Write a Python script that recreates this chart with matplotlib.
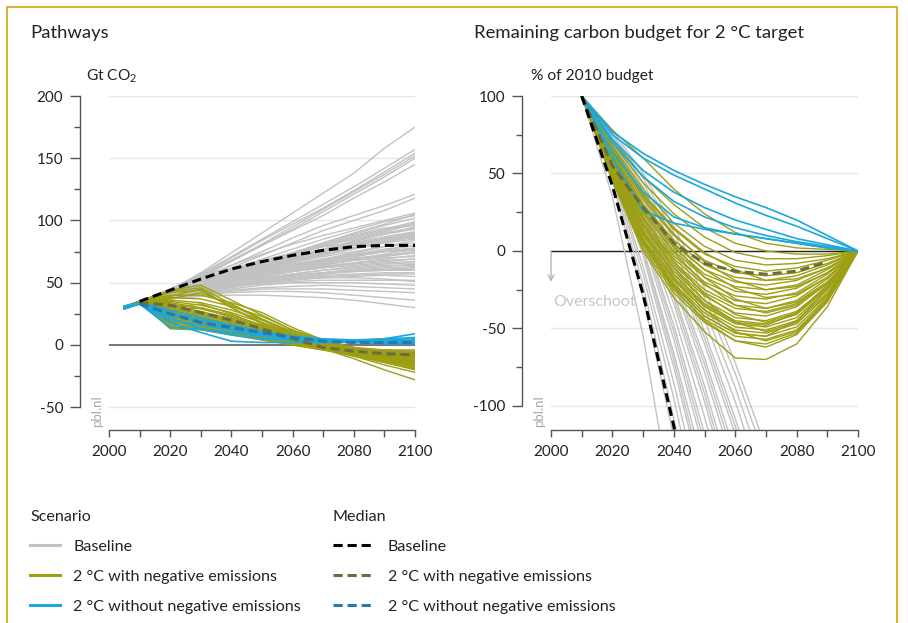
"""
Emission pathways and remaining 2 degree carbon budget (two panels plus a shared legend).
"""
import matplotlib
matplotlib.use('Agg')
import matplotlib.pyplot as plt
from matplotlib.lines import Line2D
from matplotlib.ticker import MultipleLocator

plt.rcParams['font.family'] = ['Lato', 'DejaVu Sans']
plt.rcParams['mathtext.fontset'] = 'custom'
plt.rcParams['mathtext.rm'] = 'Lato'
plt.rcParams['mathtext.it'] = 'Lato'
plt.rcParams['axes.unicode_minus'] = False

# ---------------------------------------------------------------- data
# Pathways, Gt CO2 per year
path_years = [2005, 2010, 2020, 2030, 2040, 2050, 2060, 2070, 2080, 2090, 2100]

path_baseline = [
    [30, 34, 44, 58, 74, 90, 106, 122, 138, 158, 175],
    [30, 35, 45, 57, 71, 85, 99, 113, 127, 142, 157],
    [29, 34, 44, 56, 70, 84, 97, 110, 124, 139, 154],
    [31, 35, 44, 55, 68, 81, 95, 109, 123, 137, 152],
    [30, 34, 43, 54, 67, 80, 93, 107, 121, 135, 150],
    [30, 35, 45, 56, 68, 80, 92, 104, 118, 131, 145],
    [29, 33, 42, 53, 64, 75, 86, 96, 104, 112, 121],
    [30, 34, 42, 52, 62, 72, 82, 92, 100, 108, 118],
    [30, 35, 44, 54, 64, 73, 81, 88, 94, 100, 106],
    [31, 35, 43, 52, 61, 69, 77, 85, 92, 99, 104],
    [29, 34, 42, 50, 58, 66, 74, 82, 89, 96, 102],
    [30, 34, 41, 49, 57, 65, 73, 80, 87, 93, 99],
    [30, 35, 43, 51, 59, 67, 74, 81, 88, 94, 96],
    [30, 34, 41, 48, 56, 63, 70, 77, 83, 89, 93],
    [29, 33, 40, 48, 55, 62, 69, 75, 81, 86, 90],
    [30, 34, 42, 50, 58, 64, 70, 75, 80, 84, 88],
    [31, 35, 42, 49, 56, 62, 68, 73, 78, 82, 85],
    [30, 34, 41, 48, 54, 60, 66, 71, 75, 79, 82],
    [30, 34, 40, 47, 53, 59, 64, 69, 73, 77, 80],
    [29, 33, 40, 46, 52, 58, 63, 67, 71, 75, 78],
    [30, 35, 42, 49, 55, 60, 65, 69, 72, 75, 76],
    [30, 34, 40, 46, 52, 57, 62, 66, 70, 72, 74],
    [30, 34, 41, 47, 53, 58, 62, 65, 68, 70, 71],
    [31, 35, 41, 46, 51, 56, 60, 63, 66, 68, 69],
    [30, 34, 40, 45, 50, 55, 59, 62, 64, 66, 67],
    [30, 34, 39, 44, 49, 54, 57, 60, 62, 64, 64],
    [29, 33, 39, 44, 48, 52, 56, 58, 60, 61, 62],
    [30, 34, 40, 45, 49, 53, 56, 58, 59, 60, 60],
    [30, 34, 39, 43, 47, 51, 54, 56, 57, 58, 58],
    [30, 34, 39, 43, 47, 50, 52, 54, 55, 56, 55],
    [30, 35, 40, 44, 47, 49, 51, 52, 52, 52, 52],
    [30, 34, 38, 42, 45, 48, 50, 50, 50, 49, 48],
    [29, 33, 38, 41, 44, 46, 47, 48, 47, 46, 45],
    [30, 34, 38, 41, 43, 45, 45, 45, 44, 43, 42],
    [30, 34, 37, 40, 42, 43, 43, 42, 40, 38, 36],
    [30, 34, 37, 39, 40, 40, 39, 38, 36, 33, 30],
    [30, 35, 41, 47, 54, 61, 68, 76, 84, 90, 94],
    [30, 34, 42, 50, 57, 64, 70, 76, 82, 87, 91],
    [30, 34, 40, 46, 53, 60, 67, 74, 80, 85, 89],
    [30, 35, 43, 52, 60, 68, 74, 79, 82, 84, 86],
    [30, 34, 41, 49, 57, 65, 72, 79, 85, 91, 97],
    [30, 35, 43, 51, 58, 65, 71, 77, 83, 89, 95],
    [29, 34, 42, 49, 56, 63, 69, 75, 80, 85, 90],
    [30, 34, 40, 47, 54, 61, 67, 72, 77, 82, 87],
    [31, 35, 42, 48, 55, 61, 67, 73, 78, 83, 87],
    [30, 34, 41, 48, 54, 59, 64, 69, 74, 79, 84],
    [30, 34, 40, 46, 52, 58, 63, 68, 72, 76, 80],
    [30, 35, 41, 47, 53, 58, 63, 67, 71, 75, 78],
    [29, 33, 39, 45, 51, 56, 61, 65, 69, 73, 77],
    [30, 34, 40, 46, 51, 56, 60, 64, 68, 71, 74],
    [30, 34, 39, 45, 50, 55, 59, 63, 66, 69, 72],
    [30, 35, 41, 46, 51, 55, 59, 62, 65, 67, 69],
    [30, 34, 39, 44, 49, 53, 57, 60, 63, 65, 66],
    [30, 34, 38, 43, 48, 52, 55, 58, 61, 63, 65],
    [31, 35, 40, 45, 49, 53, 56, 58, 60, 62, 63],
    [30, 34, 39, 43, 47, 51, 54, 57, 59, 60, 61],
    [30, 34, 40, 46, 52, 57, 61, 65, 69, 72, 75],
    [30, 34, 42, 50, 57, 63, 68, 73, 78, 83, 88],
    [30, 35, 43, 51, 59, 66, 73, 80, 86, 92, 98],
    [30, 34, 42, 50, 58, 66, 74, 82, 90, 97, 105],
    [30, 34, 38, 42, 46, 50, 53, 55, 56, 57, 57],
    [30, 34, 39, 44, 48, 51, 53, 54, 54, 53, 51],
]

path_negative = [
    [31, 35, 44, 48, 36, 24, 12, 4, -2, -6, -10],
    [30, 35, 43, 46, 33, 21, 10, 2, -4, -8, -12],
    [30, 34, 42, 44, 30, 18, 8, 0, -6, -11, -15],
    [31, 35, 40, 40, 34, 26, 14, 4, -4, -10, -14],
    [30, 34, 38, 37, 31, 23, 12, 2, -6, -12, -17],
    [30, 34, 36, 34, 28, 20, 11, 3, -3, -7, -9],
    [29, 34, 35, 32, 26, 18, 9, 1, -5, -9, -12],
    [30, 35, 34, 30, 24, 16, 8, 1, -4, -7, -8],
    [30, 34, 33, 29, 23, 15, 6, -2, -8, -14, -20],
    [30, 34, 32, 27, 21, 13, 5, -2, -9, -16, -22],
    [31, 35, 31, 26, 20, 12, 4, -3, -11, -20, -28],
    [30, 34, 30, 25, 19, 12, 5, -1, -6, -10, -13],
    [30, 34, 29, 24, 18, 11, 5, 0, -3, -5, -6],
    [29, 33, 28, 23, 17, 10, 4, -1, -5, -8, -10],
    [30, 34, 27, 22, 16, 10, 4, -1, -6, -11, -15],
    [30, 35, 26, 21, 15, 9, 3, -2, -7, -12, -16],
    [30, 34, 25, 20, 14, 8, 3, -2, -5, -7, -9],
    [31, 35, 24, 19, 13, 8, 3, -1, -4, -6, -7],
    [30, 34, 23, 18, 13, 7, 2, -3, -8, -13, -18],
    [30, 34, 22, 18, 12, 7, 2, -2, -6, -9, -11],
    [29, 33, 21, 17, 12, 6, 1, -3, -7, -10, -13],
    [30, 34, 20, 16, 11, 6, 1, -2, -5, -6, -7],
    [30, 35, 19, 15, 10, 5, 1, -3, -6, -9, -12],
    [30, 34, 18, 15, 10, 5, 0, -4, -9, -14, -19],
    [30, 34, 17, 14, 9, 5, 1, -2, -4, -5, -6],
    [31, 35, 16, 14, 9, 4, 0, -4, -8, -11, -14],
    [30, 34, 15, 13, 9, 5, 2, -1, -3, -4, -4],
    [30, 34, 14, 13, 10, 6, 2, -1, -4, -6, -8],
    [30, 35, 13, 12, 8, 4, 1, -2, -5, -8, -10],
    [30, 34, 27, 30, 22, 14, 6, -1, -7, -13, -17],
    [30, 34, 37, 42, 32, 20, 9, 1, -5, -9, -11],
    [30, 34, 39, 45, 30, 17, 7, -1, -8, -14, -19],
    [30, 34, 30, 33, 25, 15, 7, 2, -2, -4, -5],
    [30, 34, 18, 22, 16, 9, 3, -2, -7, -11, -14],
    [30, 34, 21, 25, 18, 10, 4, -2, -7, -10, -12],
]

path_no_negative = [
    [31, 34, 22, 13, 8, 5, 4, 3, 3, 3, 3],
    [30, 33, 18, 10, 3, 2, 2, 2, 2, 3, 4],
    [30, 34, 26, 20, 15, 10, 6, 4, 3, 5, 9],
    [29, 33, 24, 18, 13, 9, 5, 3, 2, 2, 2],
    [30, 33, 14, 13, 10, 7, 5, 4, 4, 5, 6],
    [31, 34, 28, 22, 16, 11, 7, 5, 4, 4, 5],
    [30, 33, 20, 16, 12, 8, 5, 3, 2, 1, 1],
]

median_years = [2010, 2020, 2030, 2040, 2050, 2060, 2070, 2080, 2090, 2100]
path_median_baseline = [35, 44, 53, 61, 67, 72, 76, 79, 80, 80]
path_median_negative = [34, 32, 26, 20, 13, 5, -2, -5, -7, -8]
path_median_no_negative = [33, 25, 18, 14, 10, 6, 3, 2, 2, 2]

# Remaining carbon budget, % of 2010 budget
budget_years = [2010, 2020, 2030, 2040, 2050, 2060, 2070, 2080, 2090, 2100]
budget_base_years = [2010, 2020, 2030, 2040, 2050, 2060, 2070]

budget_baseline = [
    [100, 35, -55, -170, -290, -410, -530],
    [100, 45, -30, -120, -220, -330, -440],
    [100, 48, -22, -108, -205, -310, -420],
    [100, 50, -15, -95, -185, -285, -390],
    [100, 52, -10, -85, -170, -265, -370],
    [100, 55, -3, -75, -155, -245, -345],
    [100, 57, 2, -66, -142, -228, -320],
    [100, 59, 7, -57, -130, -212, -300],
    [100, 61, 12, -48, -118, -197, -282],
    [100, 63, 16, -41, -107, -182, -265],
    [100, 64, 20, -34, -97, -168, -248],
    [100, 66, 24, -27, -87, -155, -232],
    [100, 67, 27, -21, -78, -142, -215],
    [100, 69, 31, -15, -69, -130, -200],
    [100, 70, 34, -9, -60, -118, -185],
    [100, 72, 38, -3, -52, -108, -172],
    [100, 73, 41, 2, -44, -97, -158],
    [100, 75, 44, 7, -37, -88, -146],
    [100, 76, 47, 12, -30, -79, -135],
    [100, 78, 50, 16, -24, -72, -127],
    [100, 65, 22, -30, -92, -162, -240],
    [100, 60, 10, -52, -124, -205, -292],
    [100, 54, 0, -70, -150, -238, -335],
    [100, 68, 29, -18, -73, -136, -208],
    [100, 71, 36, -6, -56, -113, -178],
]

budget_negative = [
    [100, 78, 60, 40, 24, 12, 5, 2, 1, 0],
    [100, 72, 48, 30, 15, 5, 0, -2, -2, 0],
    [100, 70, 44, 24, 9, -1, -5, -5, -3, 0],
    [100, 68, 40, 18, 3, -6, -9, -8, -5, 0],
    [100, 66, 36, 14, -2, -10, -13, -11, -6, 0],
    [100, 64, 33, 10, -6, -14, -16, -14, -8, 0],
    [100, 62, 30, 7, -9, -17, -19, -16, -9, 0],
    [100, 61, 28, 4, -12, -20, -22, -19, -11, 0],
    [100, 60, 26, 2, -15, -23, -25, -22, -12, 0],
    [100, 59, 24, 0, -17, -26, -28, -24, -14, 0],
    [100, 58, 22, -3, -20, -29, -31, -27, -15, 0],
    [100, 57, 20, -5, -22, -32, -34, -29, -17, 0],
    [100, 56, 18, -7, -25, -35, -37, -32, -18, 0],
    [100, 55, 17, -9, -27, -37, -39, -34, -20, 0],
    [100, 54, 15, -11, -29, -40, -42, -36, -21, 0],
    [100, 53, 13, -13, -32, -43, -45, -39, -23, 0],
    [100, 52, 12, -15, -34, -45, -47, -41, -24, 0],
    [100, 51, 10, -17, -36, -47, -49, -43, -25, 0],
    [100, 50, 8, -19, -38, -49, -51, -45, -27, 0],
    [100, 49, 7, -21, -40, -51, -53, -47, -28, 0],
    [100, 48, 5, -23, -42, -53, -55, -49, -30, 0],
    [100, 47, 4, -25, -44, -55, -57, -51, -31, 0],
    [100, 46, 2, -27, -46, -58, -60, -53, -32, 0],
    [100, 45, 0, -30, -52, -69, -70, -60, -36, 0],
    [100, 63, 30, 5, -12, -24, -30, -28, -17, 0],
    [100, 58, 21, -7, -28, -41, -46, -40, -24, 0],
    [100, 54, 13, -15, -35, -46, -48, -40, -22, 0],
    [100, 50, 7, -22, -42, -53, -55, -45, -25, 0],
    [100, 60, 25, -1, -21, -35, -40, -35, -21, 0],
    [100, 65, 35, 11, -7, -19, -25, -23, -14, 0],
    [100, 52, 11, -18, -38, -52, -58, -52, -32, 0],
    [100, 67, 37, 15, -1, -12, -19, -18, -11, 0],
    [100, 56, 17, -11, -32, -46, -52, -46, -29, 0],
    [100, 48, 6, -24, -45, -58, -62, -54, -33, 0],
    [100, 62, 29, 3, -17, -31, -37, -33, -20, 0],
]

budget_no_negative = [
    [100, 77, 63, 52, 43, 35, 28, 20, 10, 0],
    [100, 75, 60, 49, 40, 31, 23, 16, 8, 0],
    [100, 72, 52, 38, 28, 20, 14, 8, 4, 0],
    [100, 70, 48, 32, 22, 15, 10, 6, 3, 0],
    [100, 64, 38, 22, 15, 11, 8, 5, 2, 0],
    [100, 60, 26, 18, 14, 11, 8, 5, 2, 0],
]

budget_median_baseline_years = [2010, 2020, 2030, 2040, 2050]
budget_median_baseline = [100, 42, -28, -113, -210]
budget_median_negative_years = [2010, 2020, 2030, 2040, 2050, 2060, 2070, 2080, 2090]
budget_median_negative = [100, 55, 28, 5, -8, -13, -15, -13, -7]

# ---------------------------------------------------------------- style
GREY = '#c2c2c2'
OLIVE = '#9c9f14'
CYAN = '#1ba8dd'
OLIVE_MED = '#6c6d3a'
CYAN_MED = '#2679ad'
TEXT = '#222222'
SPINE = '#555555'
GOLD = '#d9b630'
MED_DASH = (3, 1.6)

fig = plt.figure(figsize=(9.08, 6.23), dpi=100)
W, H = 908, 623


def px_axes(x0, x1, y0, y1):
    # axes placed from pixel coords (top-left origin)
    return fig.add_axes([x0 / W, 1 - y1 / H, (x1 - x0) / W, (y1 - y0) / H])


def style_axes(ax, ylim, ystep, bounds):
    ax.set_xlim(2000, 2100)
    ax.set_ylim(*ylim)
    for side in ['top', 'right']:
        ax.spines[side].set_visible(False)
    ax.spines['left'].set_position(('outward', 21))
    ax.spines['left'].set_bounds(*bounds)
    for side in ['left', 'bottom']:
        ax.spines[side].set_color(SPINE)
        ax.spines[side].set_linewidth(1.0)
    ax.xaxis.set_major_locator(MultipleLocator(20))
    ax.xaxis.set_minor_locator(MultipleLocator(10))
    ax.set_yticks(list(range(int(bounds[0]), int(bounds[1]) + 1, int(ystep))))
    ax.set_yticks([t + ystep / 2 for t in range(int(bounds[0]), int(bounds[1]), int(ystep))], minor=True)
    ax.tick_params(axis='x', which='both', direction='out', length=5, width=1.0,
                   color=SPINE, labelsize=11, labelcolor=TEXT, pad=6)
    ax.tick_params(axis='y', which='major', direction='out', length=7, width=1.0,
                   color=SPINE, labelsize=11, labelcolor=TEXT, pad=5)
    ax.tick_params(axis='y', which='minor', direction='out', length=4, width=1.0, color=SPINE)
    ax.yaxis.grid(True, which='major', color='#e6e6e6', linewidth=1.0)
    ax.set_axisbelow(True)
    ax.text(-0.04, 0.01, 'pbl.nl', rotation=90, transform=ax.transAxes,
            color='#a9a9a9', fontsize=9.5, ha='center', va='bottom')


# ---------------------------------------------------------------- left panel
ax1 = px_axes(109, 415, 96, 430)
style_axes(ax1, (-68.3, 200), 50, (-50, 200))
ax1.axhline(0, color='#6a6a6a', linewidth=1.3, zorder=1.5)

for series in path_baseline:
    ax1.plot(path_years, series, color=GREY, linewidth=1.0, zorder=2)
for series in path_negative:
    ax1.plot(path_years, series, color=OLIVE, linewidth=1.0, zorder=3)
for series in path_no_negative:
    ax1.plot(path_years, series, color=CYAN, linewidth=1.2, zorder=4)
ax1.plot(median_years, path_median_negative, color=OLIVE_MED, linewidth=2.2,
         dashes=MED_DASH, zorder=5)
ax1.plot(median_years, path_median_no_negative, color=CYAN_MED, linewidth=2.2,
         dashes=MED_DASH, zorder=5)
ax1.plot(median_years, path_median_baseline, color='black', linewidth=2.2,
         dashes=MED_DASH, zorder=6)

# ---------------------------------------------------------------- right panel
ax2 = px_axes(551, 858, 96, 430)
style_axes(ax2, (-115.5, 100), 50, (-100, 100))
ax2.axhline(0, color='#222222', linewidth=1.0, zorder=1.5)

for series in budget_baseline:
    ax2.plot(budget_base_years, series, color=GREY, linewidth=1.0, zorder=2)
for series in budget_negative:
    ax2.plot(budget_years, series, color=OLIVE, linewidth=1.0, zorder=3)
for series in budget_no_negative:
    ax2.plot(budget_years, series, color=CYAN, linewidth=1.2, zorder=4)
ax2.plot(budget_median_negative_years, budget_median_negative, color=OLIVE_MED,
         linewidth=2.2, dashes=MED_DASH, zorder=5)
ax2.plot(budget_median_baseline_years, budget_median_baseline, color='black',
         linewidth=2.2, dashes=MED_DASH, zorder=6)

ax2.annotate('', xy=(2000, -20), xytext=(2000, 0),
             arrowprops=dict(arrowstyle='->', color='#b5b5b5', lw=1.0,
                             shrinkA=0, shrinkB=0))
ax2.text(2000.8, -33, 'Overschoot', color='#c6c6c6', fontsize=11.5, ha='left', va='center')

# ---------------------------------------------------------------- titles
fig.text(30 / W, 1 - 33 / H, 'Pathways', fontsize=13.3, color=TEXT, va='center')
fig.text(474 / W, 1 - 33 / H, 'Remaining carbon budget for 2 °C target',
         fontsize=13.3, color=TEXT, va='center')
fig.text(86 / W, 1 - 76 / H, 'Gt CO$_2$', fontsize=11.2, color=TEXT, va='center')
fig.text(531 / W, 1 - 76 / H, '% of 2010 budget', fontsize=11.2, color=TEXT, va='center')

# ---------------------------------------------------------------- legends
scenario_handles = [
    Line2D([], [], color=GREY, linewidth=2.2),
    Line2D([], [], color=OLIVE, linewidth=2.2),
    Line2D([], [], color=CYAN, linewidth=2.2),
]
median_handles = [
    Line2D([], [], color='black', linewidth=2.2, dashes=MED_DASH),
    Line2D([], [], color=OLIVE_MED, linewidth=2.2, dashes=MED_DASH),
    Line2D([], [], color=CYAN_MED, linewidth=2.2, dashes=MED_DASH),
]
labels = ['Baseline', '2 °C with negative emissions', '2 °C without negative emissions']

leg_kw = dict(loc='upper left', frameon=False, fontsize=11.6, title_fontsize=11.6,
              alignment='left', labelspacing=0.98, borderpad=0, borderaxespad=0,
              labelcolor=TEXT)
leg1 = fig.legend(scenario_handles, labels, title='Scenario',
                  bbox_to_anchor=(30 / W, 1 - 510 / H), handlelength=1.86,
                  handletextpad=0.81, **leg_kw)
leg2 = fig.legend(median_handles, labels, title='Median',
                  bbox_to_anchor=(333 / W, 1 - 510 / H), handlelength=2.42,
                  handletextpad=0.99, **leg_kw)
for leg in (leg1, leg2):
    leg.get_title().set_color(TEXT)
    leg._legend_box.sep = 11

# ---------------------------------------------------------------- frame
fig.add_artist(Line2D([7 / W, 7 / W, 897 / W, 897 / W], [0, 1 - 7 / H, 1 - 7 / H, 0],
                      transform=fig.transFigure, color=GOLD, linewidth=1.5))

plt.savefig('out.png', dpi=100)
plt.close('all')
